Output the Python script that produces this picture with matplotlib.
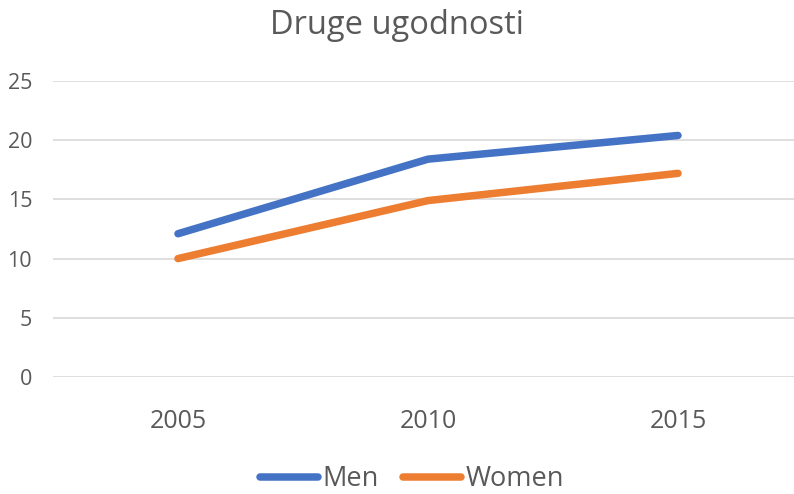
import matplotlib
matplotlib.use("Agg")
import matplotlib.pyplot as plt

years = ["2005", "2010", "2015"]
men = [12.1, 18.4, 20.4]
women = [10.0, 14.9, 17.2]
yticks = [0, 5, 10, 15, 20, 25]
title = "Druge ugodnosti"

plt.rcParams['font.family'] = ['Open Sans', 'DejaVu Sans']
text_color = "#595959"

fig = plt.figure(figsize=(7.94, 4.94), dpi=100)
ax = fig.add_axes([53/794, 1-377/494, 750/794, (377-81)/494])
x = list(range(len(years)))
ax.plot(x, men, color="#4472C4", lw=5.4, solid_capstyle="round", solid_joinstyle="round", label="Men")
ax.plot(x, women, color="#ED7D31", lw=5.4, solid_capstyle="round", solid_joinstyle="round", label="Women")
ax.set_xlim(-0.5, 2.5)
ax.set_ylim(0, 25)
ax.set_yticks(yticks)
ax.set_xticks(x)
ax.set_xticklabels(years)
ax.grid(axis="y", color="#D9D9D9", lw=1.2)
ax.set_axisbelow(True)
for s in ax.spines.values():
    s.set_visible(False)
ax.tick_params(axis="both", length=0, colors=text_color)
ax.tick_params(axis="x", labelsize=18, pad=23)
ax.tick_params(axis="y", labelsize=15.5, pad=15)
fig.text(0.5, 1-26/494, title, ha="center", va="center", fontsize=23.5, color=text_color)
leg = fig.legend(loc="center", bbox_to_anchor=(412/794, 1-479/494), ncol=2, frameon=False,
                 fontsize=19.5, handlelength=2.15, handletextpad=0.15, columnspacing=0.9,
                 labelcolor=text_color, borderpad=0)
fig.savefig("out.png", dpi=100)
